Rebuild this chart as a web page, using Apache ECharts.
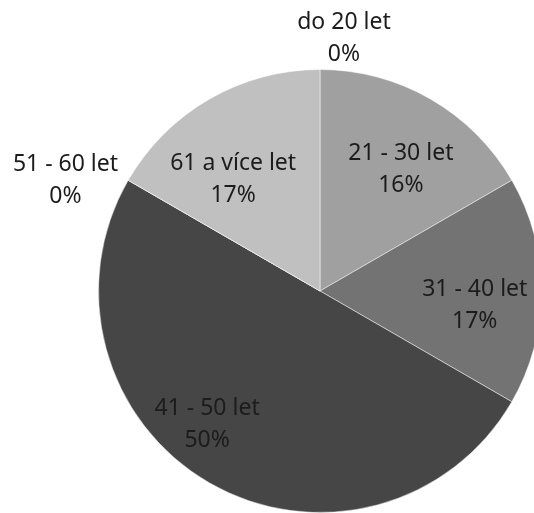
<!DOCTYPE html>
<html><head><meta charset="utf-8">
<script src="https://cdn.jsdelivr.net/npm/echarts@6/dist/echarts.min.js"></script>
<style>html,body{margin:0;padding:0;background:#fff}#c{width:534px;height:513px}</style>
</head><body><div id="c"></div>
<script>
const categories = ['do 20 let', '21 - 30 let', '31 - 40 let', '41 - 50 let', '51 - 60 let', '61 a více let'];
const values = [0, 1, 1, 3, 0, 1];
const percentLabels = ['0%', '16%', '17%', '50%', '0%', '17%'];

const colors = ['#a0a0a0', '#a0a0a0', '#737373', '#464646', '#c0c0c0', '#c0c0c0'];
// label nudges relative to library's inside label position
const nudges = [[24, -139], [24, -23], [41, 14], [-56, 35], [-156, -54], [-30, -13]];

const chart = echarts.init(document.getElementById('c'));
chart.setOption({
  animation: false,
  series: [{
    type: 'pie',
    center: [320, 291],
    radius: 221.5,
    startAngle: 90,
    clockwise: true,
    avoidLabelOverlap: false,
    minShowLabelAngle: 0,
    showEmptyCircle: false,
    itemStyle: { borderColor: 'rgba(255,255,255,0.6)', borderWidth: 0.8 },
    label: {
      show: true,
      position: 'inside',
      fontFamily: 'Noto Sans',
      fontSize: 23,
      lineHeight: 32,
      color: '#1c1c1c',
      align: 'center',
      formatter: p => categories[p.dataIndex] + '\n' + percentLabels[p.dataIndex]
    },
    labelLine: { show: false },
    labelLayout: p => ({ dx: nudges[p.dataIndex][0], dy: nudges[p.dataIndex][1] }),
    emphasis: { disabled: true },
    data: categories.map((c, i) => ({ name: c, value: values[i], itemStyle: { color: colors[i] } }))
  }]
});
</script></body></html>
